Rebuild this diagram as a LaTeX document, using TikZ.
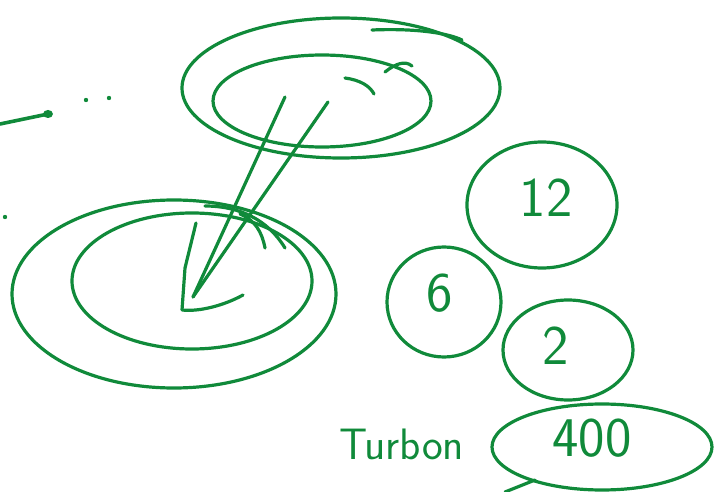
\documentclass[tikz,border=0pt]{standalone}
\usetikzlibrary{shapes.geometric}
\definecolor{inkgreen}{RGB}{16,138,58}
\tikzset{
  pen/.style={draw=inkgreen, line width=3.2pt, line cap=round, line join=round},
  ring/.style={pen, ellipse, inner sep=0pt, text=inkgreen},
  digits/.style={text=inkgreen, font=\fontsize{56}{56}\selectfont\sffamily},
  dot/.style={fill=inkgreen, draw=none}
}
\begin{document}
\begin{tikzpicture}[x=1pt, y=-1pt]
	\useasboundingbox (0,0) rectangle (724,492);

	% stroke and dots at the left
	\draw[pen, line width=3.6pt] (0,124) -- (48,114);
	\fill[dot] (48,114) ellipse (5pt and 4pt);
	\fill[dot] (86,100) circle (2.2pt);
	\fill[dot] (109,98) circle (2.2pt);
	\fill[dot] (5,217) circle (2.2pt);

	% top pair of rings
	\draw[pen] (341,88) ellipse (159 and 70);
	\draw[pen] (322,101) ellipse (109 and 46);
	\draw[pen] (372,30) .. controls (420,28) and (450,34) .. (462,40);
	\draw[pen] (345,78) .. controls (360,80) and (370,86) .. (374,94);
	\draw[pen] (385,72) .. controls (395,64) and (405,60) .. (412,66);

	% bottom pair of rings
	\draw[pen] (174,294) ellipse (162 and 94);
	\draw[pen] (192,281) ellipse (120 and 68);
	\draw[pen] (205,206) .. controls (240,206) and (268,220) .. (285,248);
	\draw[pen] (240,214) .. controls (255,220) and (262,232) .. (265,248);

	% links between the rings
	\coordinate (tipA) at (285,97);
	\coordinate (tipB) at (328,102);
	\coordinate (base) at (193,297);
	\draw[pen] (base) -- (tipA);
	\draw[pen] (base) -- (tipB);
	\draw[pen] (196,223) -- (185,268) -- (182,310)
		.. controls (200,312) and (225,305) .. (243,295);

	% circled numbers
	\node[ring, minimum width=150, minimum height=126] (twelve) at (542,205) {};
	\node[ring, minimum width=114, minimum height=110] (six) at (444,302) {};
	\node[ring, minimum width=130, minimum height=100] (two) at (568,350) {};
	\node[ring, minimum width=220, minimum height=86] (fourhundred) at (602,447) {};
	\node[digits] (twelvetext) at (546,198) {12};
	\node[digits] (sixtext) at (440,293) {6};
	\node[digits] (twotext) at (556,346) {2};
	\node[digits] (fourhundredtext) at (592,438) {400};
	\draw[pen] (505,492) -- (535,480);

	\node[text=inkgreen, font=\fontsize{44}{44}\selectfont\sffamily] (turbon) at (402,444) {Turbon};

\end{tikzpicture}
\end{document}
